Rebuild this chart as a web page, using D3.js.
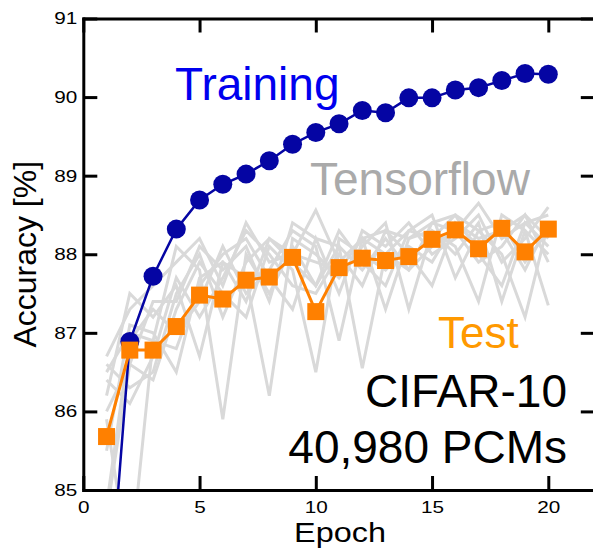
<!DOCTYPE html>
<meta charset="utf-8">
<style>
    body { margin: 0; background: #fff; }
    svg { font-family: Helvetica, Arial, "Liberation Sans", sans-serif; }
    .axis path, .axis line { stroke: #000; stroke-width: 3px; }
    .axis text { font-size: 17px; fill: #000; }
    .gray path { fill: none; stroke: #d9d9d9; stroke-width: 3px; }
</style>
<svg width="593" height="554"></svg>
<script src="https://d3js.org/d3.v7.min.js"></script>
<script>

    var epochs = d3.range(1, 21);

    var training = [83.1, 86.89, 87.72, 88.32, 88.69, 88.89, 89.02, 89.19, 89.40, 89.55,
        89.66, 89.83, 89.80, 89.99, 89.99, 90.09, 90.12, 90.21, 90.30, 90.29];

    var test = [85.68, 86.78, 86.78, 87.08, 87.48, 87.43, 87.67, 87.71, 87.96, 87.27,
        87.83, 87.95, 87.92, 87.97, 88.19, 88.31, 88.07, 88.33, 88.03, 88.32];

    // tensorflow runs (grey)
    var tensorflow = [
        [86.7, 87.3, 87.6, 87.9, 88.2, 87.6, 88.4, 87.9, 88.0, 88.56, 87.9, 88.2, 88.3, 88.2, 88.4, 88.3, 88.65, 88.2, 88.4, 88.5],
        [86.5, 87.0, 86.9, 88.1, 87.8, 85.9, 88.0, 87.5, 88.1, 87.6, 88.1, 86.55, 88.0, 88.3, 88.2, 88.5, 88.3, 88.0, 87.2, 88.4],
        [86.2, 87.5, 87.2, 87.6, 86.7, 87.9, 87.7, 86.2, 88.2, 88.0, 87.7, 88.1, 88.4, 87.3, 88.3, 88.1, 87.4, 88.5, 88.3, 87.35],
        [84.7, 86.6, 86.4, 87.3, 87.9, 87.5, 87.2, 88.1, 87.8, 86.5, 88.2, 88.0, 87.8, 88.1, 87.9, 88.4, 88.1, 88.3, 88.5, 88.2],
        [85.9, 84.0, 86.9, 86.8, 87.6, 88.0, 88.2, 87.7, 87.3, 88.2, 87.5, 88.3, 88.1, 88.4, 88.0, 88.2, 88.5, 87.9, 88.2, 88.6],
        [86.6, 86.3, 86.5, 87.5, 88.0, 87.2, 87.9, 88.2, 87.9, 87.6, 88.3, 87.9, 87.6, 88.3, 88.5, 87.7, 88.3, 88.4, 87.9, 88.3],
        [84.8, 86.9, 87.3, 87.0, 87.4, 88.1, 87.5, 87.8, 88.3, 88.1, 86.9, 88.2, 88.0, 87.8, 88.4, 88.5, 88.0, 87.6, 88.4, 88.1],
        [86.4, 86.1, 86.7, 87.7, 87.2, 87.7, 88.3, 88.0, 87.6, 87.5, 88.0, 87.6, 88.3, 88.0, 87.6, 88.4, 88.2, 88.3, 87.8, 88.4],
        [85.5, 87.1, 87.0, 86.5, 87.7, 87.9, 87.4, 88.2, 88.0, 87.9, 87.8, 88.2, 87.3, 88.2, 88.3, 88.0, 88.4, 87.4, 88.3, 88.0],
        [86.0, 86.6, 87.4, 87.4, 88.1, 87.8, 88.1, 87.4, 88.4, 88.2, 88.1, 87.8, 88.2, 87.8, 88.1, 88.3, 87.9, 88.1, 88.5, 87.9]
    ];

    var xTicks = [0, 5, 10, 15, 20],
        yTicks = [85, 86, 87, 88, 89, 90, 91];

    var svg = d3.select("svg");

    var x = d3.scaleLinear().domain([0, 22]).range([83.3, 594.8]),
        y = d3.scaleLinear().domain([85, 91]).range([490, 18.5]);

    svg.append("defs").append("clipPath")
        .attr("id", "plot")
        .append("rect")
        .attr("x", x(0))
        .attr("y", y(91))
        .attr("width", x(22) - x(0))
        .attr("height", y(85) - y(91));

    var line = d3.line()
        .x(function (d, i) { return x(epochs[i]); })
        .y(function (d) { return y(d); });

    var plot = svg.append("g").attr("clip-path", "url(#plot)");

    plot.append("g")
        .attr("class", "gray")
        .selectAll("path")
        .data(tensorflow)
        .enter().append("path")
        .attr("d", line);

    // training
    plot.append("path")
        .datum(training)
        .attr("d", line)
        .attr("fill", "none")
        .attr("stroke", "#0505a3")
        .attr("stroke-width", 2.5);

    plot.selectAll(".train")
        .data(training)
        .enter().append("circle")
        .attr("class", "train")
        .attr("cx", function (d, i) { return x(epochs[i]); })
        .attr("cy", function (d) { return y(d); })
        .attr("r", 9.5)
        .attr("fill", "#0505a3");

    // test
    plot.append("path")
        .datum(test)
        .attr("d", line)
        .attr("fill", "none")
        .attr("stroke", "#ff8000")
        .attr("stroke-width", 3);

    plot.selectAll(".test")
        .data(test)
        .enter().append("rect")
        .attr("class", "test")
        .attr("x", function (d, i) { return x(epochs[i]) - 8.5; })
        .attr("y", function (d) { return y(d) - 8.5; })
        .attr("width", 17)
        .attr("height", 17)
        .attr("fill", "#ff8000");

    // axes
    svg.append("g")
        .attr("class", "axis")
        .attr("transform", "translate(0," + y(85) + ")")
        .call(d3.axisBottom(x).tickValues(xTicks).tickFormat(d3.format("d"))
            .tickSizeInner(-14).tickSizeOuter(0).tickPadding(11));

    svg.append("g")
        .attr("class", "axis")
        .attr("transform", "translate(0," + y(91) + ")")
        .call(d3.axisTop(x).tickValues(xTicks).tickFormat("").tickSizeInner(-14).tickSizeOuter(0));

    svg.append("g")
        .attr("class", "axis")
        .attr("transform", "translate(" + x(0) + ",0)")
        .call(d3.axisLeft(y).tickValues(yTicks).tickFormat(d3.format("d"))
            .tickSizeInner(-14).tickSizeOuter(0).tickPadding(5));

    svg.append("g")
        .attr("class", "axis")
        .attr("transform", "translate(" + x(22) + ",0)")
        .call(d3.axisRight(y).tickValues(yTicks).tickFormat("").tickSizeInner(-14).tickSizeOuter(0));

    svg.selectAll(".axis .domain").attr("stroke-linecap", "square");
    // tick labels are drawn a bit wide in the original
    svg.selectAll(".axis .tick text").attr("transform", "scale(1.22,1)");

    // labels
    svg.append("text")
        .attr("transform", "translate(36," + y(88) + ") rotate(-90)")
        .attr("text-anchor", "middle")
        .attr("font-size", "32px")
        .text("Accuracy [%]");

    svg.append("text")
        .attr("transform", "translate(340,542) scale(1.2,1)")
        .attr("text-anchor", "middle")
        .attr("font-size", "27px")
        .text("Epoch");

    svg.append("text")
        .attr("x", 175).attr("y", 100)
        .attr("font-size", "46px")
        .attr("fill", "#0000ee")
        .text("Training");

    svg.append("text")
        .attr("x", 310).attr("y", 195)
        .attr("font-size", "46px")
        .attr("fill", "#aaaaaa")
        .text("Tensorflow");

    svg.append("text")
        .attr("x", 438).attr("y", 348)
        .attr("font-size", "44px")
        .attr("fill", "#ff9900")
        .text("Test");

    svg.append("text")
        .attr("x", 567).attr("y", 407)
        .attr("text-anchor", "end")
        .attr("font-size", "46px")
        .text("CIFAR-10");

    svg.append("text")
        .attr("x", 567).attr("y", 463)
        .attr("text-anchor", "end")
        .attr("font-size", "46px")
        .text("40,980 PCMs");

</script>
